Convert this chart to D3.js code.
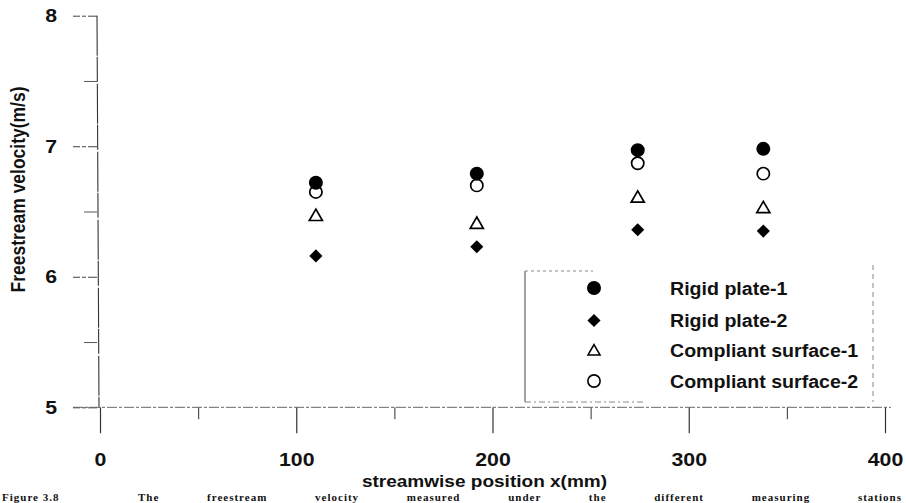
<!DOCTYPE html>
<html>
<head>
<meta charset="utf-8">
<script src="https://cdn.jsdelivr.net/npm/d3@7"></script>
<style>
  html, body { margin: 0; padding: 0; background: #fff; }
  svg { display: block; }
  text { font-family: "Liberation Sans", Arial, sans-serif; font-weight: bold; fill: #111; }
</style>
</head>
<body>
<svg id="chart" width="906" height="503"></svg>
<script>
// Streamwise measurement stations (mm)
const stations = [110, 192, 274, 338];

// Freestream velocity (m/s) per series
const rigidPlate1 = [6.72, 6.79, 6.97, 6.98];
const rigidPlate2 = [6.16, 6.23, 6.36, 6.35];
const compliant1  = [6.46, 6.40, 6.60, 6.52];
const compliant2  = [6.65, 6.70, 6.87, 6.79];

const seriesNames = ["Rigid plate-1", "Rigid plate-2", "Compliant surface-1", "Compliant surface-2"];

// Axis ticks
const xMajorTicks = [0, 100, 200, 300, 400];
const xMinorTicks = [50, 150, 250, 350];
const yMajorTicks = [5, 6, 7, 8];
const yMinorTicks = [5.5, 6.5, 7.5];

const xTitle = "streamwise position x(mm)";
const yTitle = "Freestream velocity(m/s)";
const captionLabel = "Figure 3.8";
const captionText = "The freestream velocity measured under the different measuring stations";

const svg = d3.select("#chart");
const STRETCH = 1.12;   // printed type runs a little wide

const x = d3.scaleLinear().domain([0, 400]).range([100, 885]);
const y = d3.scaleLinear().domain([5, 8]).range([407.3, 15.7]);

// marker styles per series
const markers = [
  { type: d3.symbolCircle,   size: 154, fill: "#000", stroke: "none", rot: 0 },
  { type: d3.symbolSquare,   size: 86,  fill: "#000", stroke: "none", rot: 45 },
  { type: d3.symbolTriangle, size: 74,  fill: "none", stroke: "#000", rot: 0 },
  { type: d3.symbolCircle,   size: 118, fill: "none", stroke: "#000", rot: 0 }
];
const seriesValues = [rigidPlate1, rigidPlate2, compliant1, compliant2];

// ---- y axis ----
const yAxis = svg.append("g").attr("transform", `translate(${x(0) - 3},0)`);
yAxis.call(d3.axisLeft(y).tickValues(yMajorTicks).tickSize(24).tickPadding(16).tickFormat(d3.format("d")));
yAxis.select(".domain").remove();
yAxis.selectAll(".tick line").attr("stroke", "#444").attr("stroke-width", 1).attr("stroke-dasharray", "9,2,4,2");
yAxis.selectAll(".tick text")
  .style("font-size", "19px")
  .attr("x", -40 / STRETCH)
  .attr("transform", `scale(${STRETCH},1)`);

const yMinor = svg.append("g").attr("transform", `translate(${x(0) - 3},0)`);
yMinor.call(d3.axisLeft(y).tickValues(yMinorTicks).tickSize(13).tickFormat(""));
yMinor.select(".domain").remove();
yMinor.selectAll(".tick line").attr("stroke", "#555").attr("stroke-width", 1);

// vertical axis line
svg.append("line")
  .attr("x1", x(0) - 3).attr("x2", x(0) - 1)
  .attr("y1", y(8)).attr("y2", y(5))
  .attr("stroke", "#333").attr("stroke-width", 1.1)
  .attr("stroke-dasharray", "40,1,25,2");

// ---- x axis ----
const xAxis = svg.append("g").attr("transform", `translate(0,${y(5)})`);
xAxis.call(d3.axisBottom(x).tickValues(xMajorTicks).tickSize(26).tickPadding(19).tickFormat(d3.format("d")));
xAxis.select(".domain").remove();
xAxis.selectAll(".tick line").attr("stroke", "#333").attr("stroke-width", 1.2);
xAxis.selectAll(".tick text")
  .style("font-size", "19px")
  .attr("transform", `scale(${STRETCH},1)`)
  .attr("x", 0);

const xMinor = svg.append("g").attr("transform", `translate(0,${y(5)})`);
xMinor.call(d3.axisBottom(x).tickValues(xMinorTicks).tickSize(12).tickFormat(""));
xMinor.select(".domain").remove();
xMinor.selectAll(".tick line").attr("stroke", "#444").attr("stroke-width", 1.1);

// horizontal axis line
svg.append("line")
  .attr("x1", x(0) - 27).attr("x2", x(400) + 6)
  .attr("y1", y(5)).attr("y2", y(5))
  .attr("stroke", "#666").attr("stroke-width", 1)
  .attr("stroke-dasharray", "10,2,3,2");

// ---- axis titles ----
svg.append("text")
  .attr("transform", `translate(${x(200) - 8},486.5) scale(${STRETCH},1)`)
  .attr("text-anchor", "middle")
  .style("font-size", "17px")
  .text(xTitle);

svg.append("text")
  .attr("transform", `translate(25,${y(6.5) - 22}) scale(${STRETCH},1) rotate(-90)`)
  .attr("text-anchor", "middle")
  .style("font-size", "17.5px")
  .text(yTitle);

// ---- data points ----
seriesValues.forEach((vals, si) => {
  const m = markers[si];
  svg.append("g").selectAll("path")
    .data(vals.map((v, i) => ({ x: stations[i], v })))
    .join("path")
    .attr("d", d3.symbol().type(m.type).size(m.size))
    .attr("transform", d => `translate(${x(d.x)},${y(d.v)}) rotate(${m.rot})`)
    .attr("fill", m.fill)
    .attr("stroke", m.stroke)
    .attr("stroke-width", 1.7);
});

// ---- legend ----
const legend = svg.append("g");
const lgLeft = 525, lgTop = 271, lgRight = 873, lgBottom = 402;
legend.append("line").attr("x1", lgLeft).attr("x2", lgLeft).attr("y1", lgTop).attr("y2", lgBottom)
  .attr("stroke", "#444").attr("stroke-width", 1);
legend.append("line").attr("x1", lgLeft).attr("x2", lgLeft + 68).attr("y1", lgTop).attr("y2", lgTop)
  .attr("stroke", "#888").attr("stroke-width", 1).attr("stroke-dasharray", "3,3");
legend.append("line").attr("x1", lgLeft).attr("x2", lgLeft + 120).attr("y1", lgBottom).attr("y2", lgBottom)
  .attr("stroke", "#888").attr("stroke-width", 1).attr("stroke-dasharray", "6,3,2,3");
legend.append("line").attr("x1", lgRight).attr("x2", lgRight).attr("y1", lgTop - 6).attr("y2", lgBottom)
  .attr("stroke", "#888").attr("stroke-width", 1).attr("stroke-dasharray", "5,4");

const legendMarkerSize = [154, 86, 62, 118];
const rows = [288, 320.5, 350.5, 381];
seriesNames.forEach((name, i) => {
  const m = markers[i];
  legend.append("path")
    .attr("d", d3.symbol().type(m.type).size(legendMarkerSize[i]))
    .attr("transform", `translate(594,${rows[i] + (i === 2 ? 1 : 0)}) rotate(${m.rot})`)
    .attr("fill", m.fill)
    .attr("stroke", m.stroke)
    .attr("stroke-width", 1.6);
  legend.append("text")
    .attr("transform", `translate(670,${rows[i] + 6.5}) scale(${STRETCH},1)`)
    .style("font-size", "17.5px")
    .text(name);
});

// ---- caption along the bottom edge, words spread across the full width ----
const capFont = { family: "'Liberation Serif', 'Times New Roman', serif", size: "11px" };
svg.append("text")
  .attr("x", 2).attr("y", 500.5)
  .style("font-family", capFont.family)
  .style("font-size", capFont.size)
  .style("letter-spacing", "1px")
  .text(captionLabel);
const cap = svg.append("text")
  .attr("x", 138).attr("y", 500.5)
  .style("font-family", capFont.family)
  .style("font-size", capFont.size)
  .style("letter-spacing", "1px")
  .text(captionText);
const natural = cap.node().getComputedTextLength();
const gaps = captionText.split(" ").length - 1;
cap.style("word-spacing", `${Math.max(0, (902 - 138 - natural) / gaps)}px`);
</script>
</body>
</html>
